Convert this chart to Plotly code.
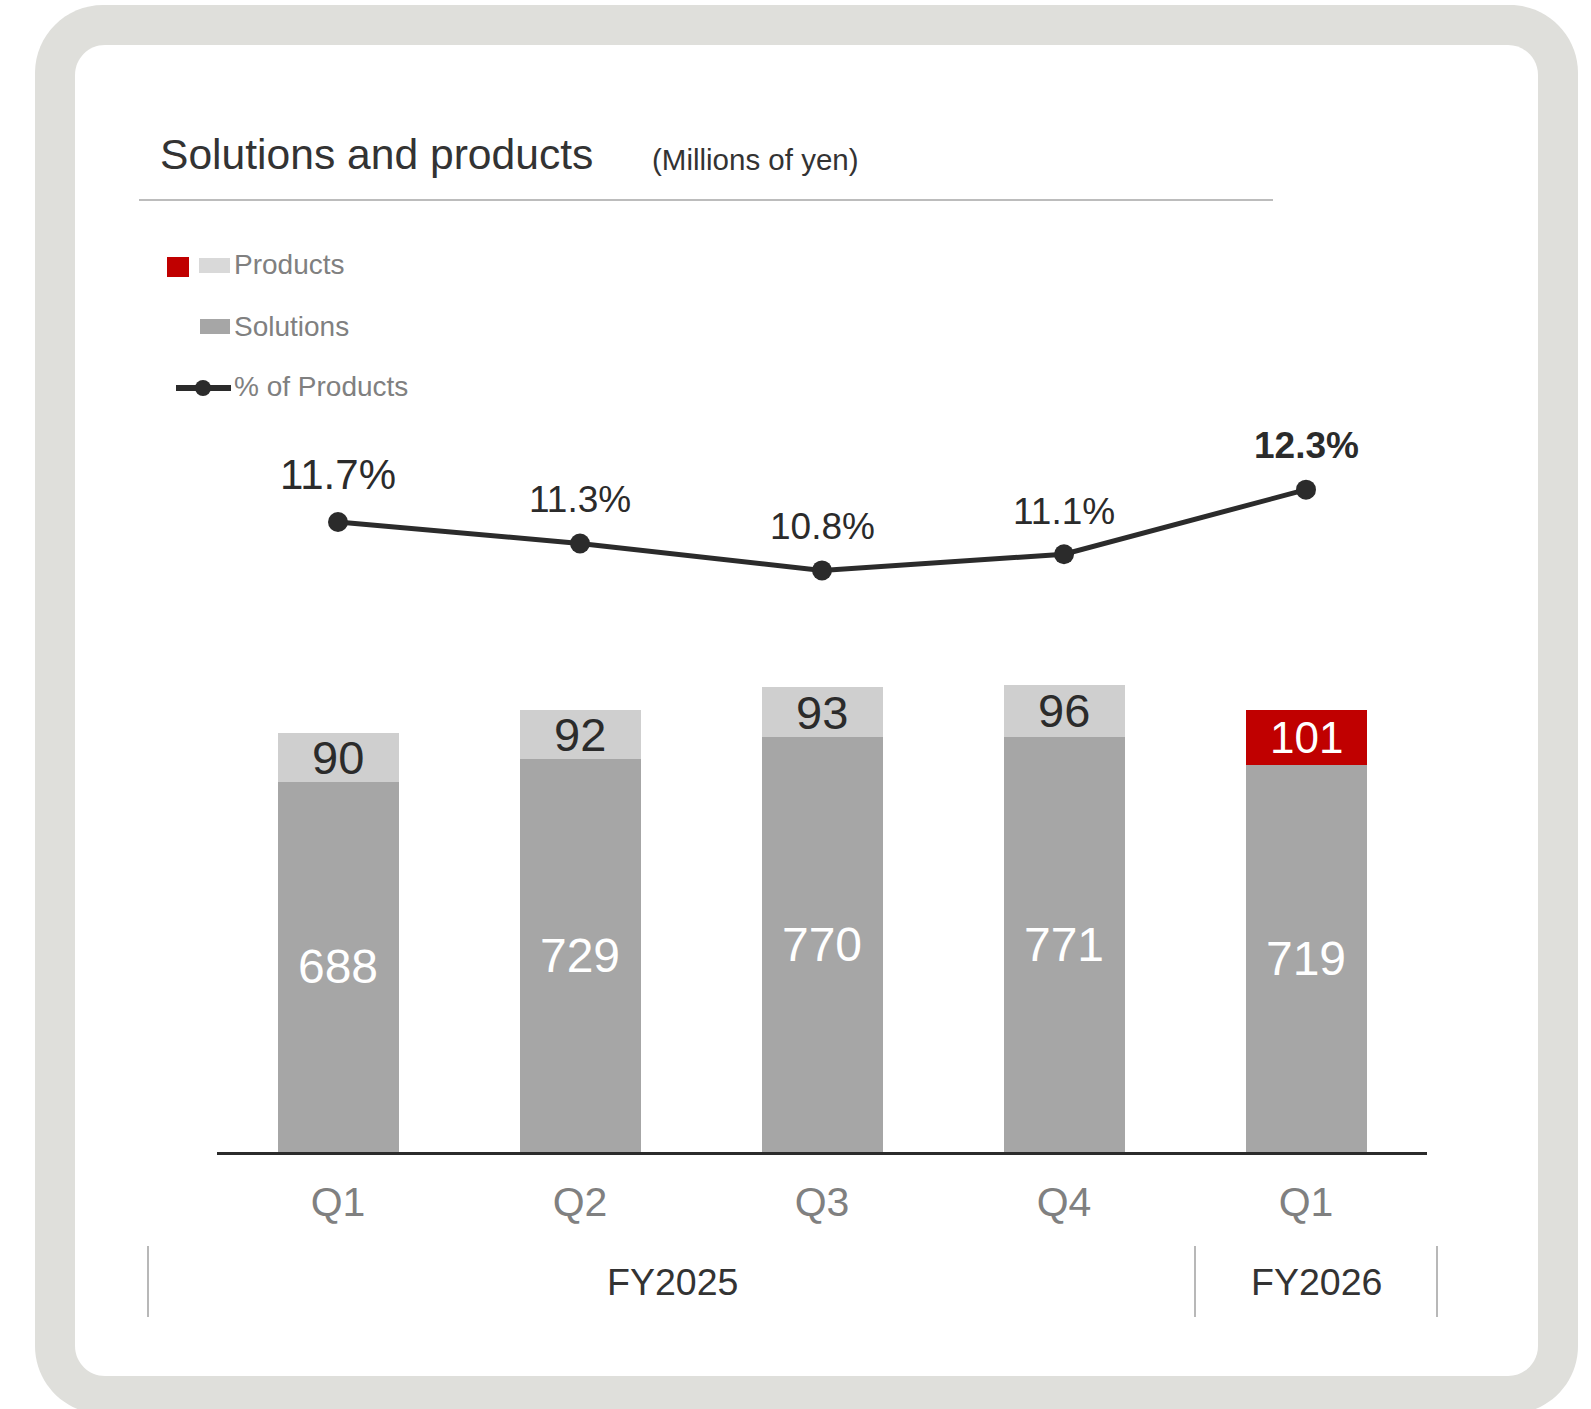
import plotly.graph_objects as go

# Quarterly figures (millions of yen)
quarters = ["Q1", "Q2", "Q3", "Q4", "Q1"]
fiscal_years = ["FY2025", "FY2026"]
solutions = [688, 729, 770, 771, 719]
products = [90, 92, 93, 96, 101]
pct_products = [11.7, 11.3, 10.8, 11.1, 12.3]

W, H = 1591, 1409
FONT = "Liberation Sans, Arial, sans-serif"
DARK = "#2b2b2b"
GREY_TXT = "#808080"
SOL_COL = "#a6a6a6"
PROD_COL = "#cfcfcf"
RED = "#c00000"


def px(x):
    return x / W


def py(y):
    return 1 - y / H


def rounded_rect(x0, y0, x1, y1, r):
    k = 0.5523 * r
    pts = [
        f"M{px(x0 + r)},{py(y0)}",
        f"L{px(x1 - r)},{py(y0)}",
        f"C{px(x1 - r + k)},{py(y0)} {px(x1)},{py(y0 + r - k)} {px(x1)},{py(y0 + r)}",
        f"L{px(x1)},{py(y1 - r)}",
        f"C{px(x1)},{py(y1 - r + k)} {px(x1 - r + k)},{py(y1)} {px(x1 - r)},{py(y1)}",
        f"L{px(x0 + r)},{py(y1)}",
        f"C{px(x0 + r - k)},{py(y1)} {px(x0)},{py(y1 - r + k)} {px(x0)},{py(y1 - r)}",
        f"L{px(x0)},{py(y0 + r)}",
        f"C{px(x0)},{py(y0 + r - k)} {px(x0 + r - k)},{py(y0)} {px(x0 + r)},{py(y0)}",
        "Z",
    ]
    return " ".join(pts)


x = list(range(len(quarters)))
prod_colors = [PROD_COL] * (len(x) - 1) + [RED]
prod_text_colors = [DARK] * (len(x) - 1) + ["white"]
prod_text_sizes = [47] * (len(x) - 1) + [44]

fig = go.Figure()

fig.add_trace(go.Bar(
    x=x, y=solutions, width=0.5, marker=dict(color=SOL_COL, line=dict(width=0)),
    text=[str(v) for v in solutions], textposition="inside", insidetextanchor="middle",
    textangle=0, textfont=dict(family=FONT, size=48, color="white"),
    name="Solutions", showlegend=False, hoverinfo="skip",
))
fig.add_trace(go.Bar(
    x=x, y=products, width=0.5, marker=dict(color=prod_colors, line=dict(width=0)),
    name="Products", showlegend=False, hoverinfo="skip",
))
fig.add_trace(go.Scatter(
    x=x, y=pct_products, yaxis="y2", mode="lines+markers",
    line=dict(color=DARK, width=5), marker=dict(color=DARK, size=20),
    name="% of Products", showlegend=False, hoverinfo="skip",
))

annotations = []
# Product values centred in the upper segment
for i, (s, p) in enumerate(zip(solutions, products)):
    annotations.append(dict(
        x=i, y=s + p / 2, xref="x", yref="y", text=str(p), showarrow=False,
        font=dict(family=FONT, size=prod_text_sizes[i], color=prod_text_colors[i]),
        xanchor="center", yanchor="middle",
    ))

# Percentage labels above the line points
pct_sizes = [42, 37, 37, 37, 37]
pct_shift = [47, 44, 44, 43, 44]
for i, v in enumerate(pct_products):
    txt = f"{v:.1f}%"
    if i == len(pct_products) - 1:
        txt = f"<b>{txt}</b>"
    annotations.append(dict(
        x=i, y=v, xref="x", yref="y2", text=txt, showarrow=False,
        font=dict(family=FONT, size=pct_sizes[i], color=DARK),
        xanchor="center", yanchor="middle", yshift=pct_shift[i],
    ))

# Title and unit
annotations.append(dict(
    x=px(158), y=py(154), xref="paper", yref="paper", text="Solutions and products",
    showarrow=False, xanchor="left", yanchor="middle",
    font=dict(family=FONT, size=42.6, color="#333333"),
))
annotations.append(dict(
    x=px(650), y=py(159), xref="paper", yref="paper", text="(Millions of yen)",
    showarrow=False, xanchor="left", yanchor="middle",
    font=dict(family=FONT, size=29.5, color="#333333"),
))

# Legend labels
for label, yc in [("Products", 264), ("Solutions", 326), ("% of Products", 387)]:
    annotations.append(dict(
        x=px(232), y=py(yc), xref="paper", yref="paper", text=label,
        showarrow=False, xanchor="left", yanchor="middle",
        font=dict(family=FONT, size=28, color=GREY_TXT),
    ))

# Fiscal year labels
for label, xc in zip(fiscal_years, [672, 1316]):
    annotations.append(dict(
        x=px(xc), y=py(1282), xref="paper", yref="paper", text=label,
        showarrow=False, xanchor="center", yanchor="middle",
        font=dict(family=FONT, size=37.5, color="#333333"),
    ))

shapes = [
    # Card frame
    dict(type="path", path=rounded_rect(35, 5, 1578, 1414, 68), xref="paper", yref="paper",
         fillcolor="#dfdfdb", line=dict(width=0), layer="below"),
    dict(type="path", path=rounded_rect(75, 45, 1538, 1376, 30), xref="paper", yref="paper",
         fillcolor="white", line=dict(width=0), layer="below"),
    # Title underline
    dict(type="line", x0=px(139), x1=px(1273), y0=py(200), y1=py(200), xref="paper", yref="paper",
         line=dict(color="#a6a6a6", width=1.5)),
    # Legend swatches
    dict(type="rect", x0=px(167), x1=px(189), y0=py(257), y1=py(277), xref="paper", yref="paper",
         fillcolor=RED, line=dict(width=0)),
    dict(type="rect", x0=px(199), x1=px(230), y0=py(258), y1=py(273), xref="paper", yref="paper",
         fillcolor="#d9d9d9", line=dict(width=0)),
    dict(type="rect", x0=px(200), x1=px(230), y0=py(319), y1=py(334), xref="paper", yref="paper",
         fillcolor=SOL_COL, line=dict(width=0)),
    dict(type="line", x0=px(176), x1=px(231), y0=py(388), y1=py(388), xref="paper", yref="paper",
         line=dict(color=DARK, width=6)),
    dict(type="circle", x0=px(195), x1=px(211), y0=py(380), y1=py(396), xref="paper", yref="paper",
         fillcolor=DARK, line=dict(width=0)),
]
# Fiscal year separators
for xs in [148, 1195, 1437]:
    shapes.append(dict(type="line", x0=px(xs), x1=px(xs), y0=py(1246), y1=py(1317),
                       xref="paper", yref="paper", line=dict(color="#a0a0a0", width=1.5)))

scale = 0.5385          # pixels per million yen
base_px = 1152          # baseline of the bars
y_max = 1400
top_px = base_px - scale * y_max

fig.update_layout(
    width=W, height=H, margin=dict(l=0, r=0, t=0, b=0, pad=0),
    paper_bgcolor="white", plot_bgcolor="rgba(0,0,0,0)",
    barmode="stack", bargap=0.5, showlegend=False,
    font=dict(family=FONT),
    xaxis=dict(
        domain=[px(217), px(1427)], range=[-0.5, 4.5],
        tickmode="array", tickvals=x, ticktext=quarters,
        tickfont=dict(family=FONT, size=41, color=GREY_TXT),
        ticks="outside", ticklen=12, tickcolor="rgba(0,0,0,0)",
        showgrid=False, zeroline=False,
        showline=True, linecolor=DARK, linewidth=2.5,
        fixedrange=True,
    ),
    yaxis=dict(
        domain=[py(base_px), py(top_px)], range=[0, y_max],
        visible=False, showgrid=False, zeroline=False, fixedrange=True,
    ),
    yaxis2=dict(
        overlaying="y", range=[0, y_max / 100],
        visible=False, showgrid=False, zeroline=False, fixedrange=True,
    ),
    annotations=annotations,
    shapes=shapes,
)

fig.write_html("out.html")
